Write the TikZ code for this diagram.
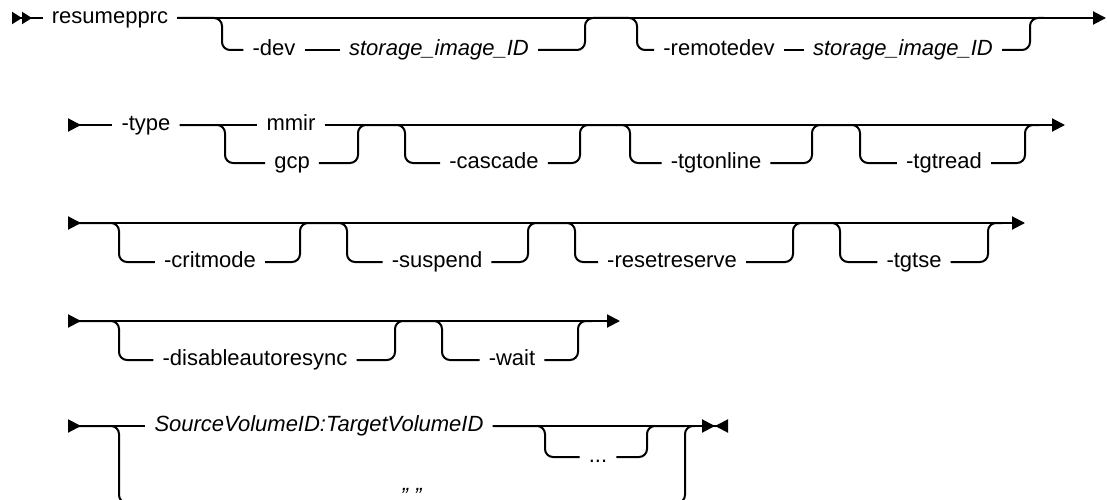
\documentclass[tikz,border=0pt]{standalone}
\usepackage{fontspec}
\setmainfont{Liberation Sans}
\usetikzlibrary{arrows.meta}

\tikzset{
  rail/.style={line width=2pt, rounded corners=8pt},
  kw/.style={inner xsep=9pt, inner ysep=0pt, text height=15pt, text depth=3.6pt,
             font=\fontsize{22}{26}\selectfont},
  var/.style={kw, font=\fontsize{22}{26}\selectfont\itshape}
}

\begin{document}
\begin{tikzpicture}[x=1pt, y=-1pt, >={Triangle[length=13pt, width=13pt]}]
  \useasboundingbox (0,0) rectangle (1107,500);

  % row 1
  \coordinate (r1s) at (12,18);
  \coordinate (d1a) at (222,18);
  \coordinate (u1a) at (585,18);
  \coordinate (d1b) at (637,18);
  \coordinate (u1b) at (1030,18);
  \coordinate (r1e) at (1106,18);
  \node[kw]  (resume) at (110,18) {resumepprc};
  \node[kw]  (dev)    at (274,50) {-dev};
  \node[var] (devid)  at (439,50) {storage\_image\_ID};
  \node[kw]  (remdev) at (719,50) {-remotedev};
  \node[var] (remid)  at (903,50) {storage\_image\_ID};
  \draw[rail, {Triangle[reversed, length=10pt, width=12pt]Triangle[reversed, length=10pt, width=12pt]}-] (r1s) -- (resume);
  \draw[rail, ->] (resume) -- (r1e);
  \draw[rail] (resume) -- (d1a) |- (dev);
  \draw[rail] (dev) -- (devid);
  \draw[rail] (devid) -| (u1a) -- (d1b) |- (remdev);
  \draw[rail] (remdev) -- (remid);
  \draw[rail] (remid) -| (u1b) -- ++(14,0);

  % row 2
  \coordinate (r2s) at (68,125);
  \coordinate (d2a) at (225,125);
  \coordinate (u2a) at (358,125);
  \coordinate (d2b) at (405,125);
  \coordinate (u2b) at (580,125);
  \coordinate (d2c) at (630,125);
  \coordinate (u2c) at (812,125);
  \coordinate (d2d) at (860,125);
  \coordinate (u2d) at (1025,125);
  \coordinate (r2e) at (1065,125);
  \node[kw] (type)      at (146,125) {-type};
  \node[kw] (mmir)      at (291,125) {mmir};
  \node[kw] (gcp)       at (292,163) {gcp};
  \node[kw] (cascade)   at (494,163) {-cascade};
  \node[kw] (tgtonline) at (716,163) {-tgtonline};
  \node[kw] (tgtread)   at (944,163) {-tgtread};
  \draw[rail, >-] (r2s) -- (type);
  \draw[rail] (type) -- (mmir);
  \draw[rail, ->] (mmir) -- (r2e);
  \draw[rail] (type) -- (d2a) |- (gcp);
  \draw[rail] (gcp) -| (u2a) -- (d2b) |- (cascade);
  \draw[rail] (cascade) -| (u2b) -- (d2c) |- (tgtonline);
  \draw[rail] (tgtonline) -| (u2c) -- (d2d) |- (tgtread);
  \draw[rail] (tgtread) -| (u2d) -- ++(14,0);

  % row 3
  \coordinate (r3s) at (68,223);
  \coordinate (d3a) at (119,223);
  \coordinate (u3a) at (300,223);
  \coordinate (d3b) at (347,223);
  \coordinate (u3b) at (528,223);
  \coordinate (d3c) at (575,223);
  \coordinate (u3c) at (793,223);
  \coordinate (d3d) at (840,223);
  \coordinate (u3d) at (988,223);
  \coordinate (r3e) at (1025,223);
  \node[kw] (crit)    at (210,262) {-critmode};
  \node[kw] (suspend) at (437,262) {-suspend};
  \node[kw] (reset)   at (672,262) {-resetreserve};
  \node[kw] (tgtse)   at (914,262) {-tgtse};
  \draw[rail, >->] (r3s) -- (r3e);
  \draw[rail] (r3s) -- (d3a) |- (crit);
  \draw[rail] (crit) -| (u3a) -- (d3b) |- (suspend);
  \draw[rail] (suspend) -| (u3b) -- (d3c) |- (reset);
  \draw[rail] (reset) -| (u3c) -- (d3d) |- (tgtse);
  \draw[rail] (tgtse) -| (u3d) -- ++(14,0);

  % row 4
  \coordinate (r4s) at (68,321);
  \coordinate (d4a) at (119,321);
  \coordinate (u4a) at (395,321);
  \coordinate (d4b) at (442,321);
  \coordinate (u4b) at (578,321);
  \coordinate (r4e) at (620,321);
  \node[kw] (disable) at (255,360) {-disableautoresync};
  \node[kw] (wait)    at (512,360) {-wait};
  \draw[rail, >->] (r4s) -- (r4e);
  \draw[rail] (r4s) -- (d4a) |- (disable);
  \draw[rail] (disable) -| (u4a) -- (d4b) |- (wait);
  \draw[rail] (wait) -| (u4b) -- ++(14,0);

  % row 5
  \coordinate (r5s) at (68,426);
  \coordinate (d5a) at (119,426);
  \coordinate (d5b) at (545,426);
  \coordinate (u5b) at (647,426);
  \coordinate (u5a) at (685,426);
  \coordinate (r5e) at (728,426);
  \node[var] (src)   at (319,426) {SourceVolumeID:TargetVolumeID};
  \node[kw]  (dots)  at (598,457) {...};
  \node[var, text depth=13.6pt] (quote) at (411,503) {" "};
  \draw[rail, >-] (r5s) -- (src);
  \draw[rail, -><] (src) -- (r5e);
  \draw[rail] (src) -- (d5b) |- (dots);
  \draw[rail] (dots) -| (u5b) -- (u5a);
  \draw[rail] (r5s) -- (d5a) |- (quote);
  \draw[rail] (quote) -| (u5a) -- ++(10,0);
\end{tikzpicture}
\end{document}
